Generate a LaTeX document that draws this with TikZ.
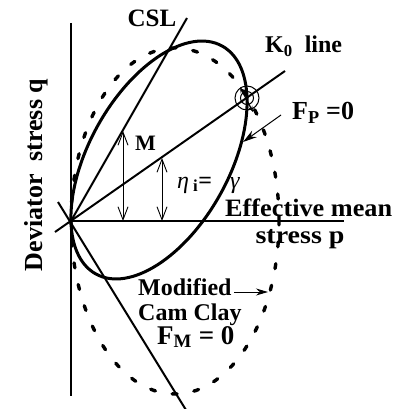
\documentclass[tikz,border=0pt]{standalone}
\usepackage{fontspec}
\setmainfont{Liberation Serif}
\usetikzlibrary{arrows.meta}
\begin{document}
\begin{tikzpicture}[x=1pt,y=-1pt,
  axis/.style={line width=1.3pt},
  ln/.style={line width=2pt},
  dblarrow/.style={line width=0.9pt,{Straight Barb[length=13pt,width=10pt]}-{Straight Barb[length=13pt,width=10pt]}},
  lbl/.style={inner sep=0pt},
  fs/.style={font=\fontsize{#1}{#1}\selectfont\bfseries}
]
\useasboundingbox (0,0) rectangle (401,409);
% coordinates
\coordinate (O) at (71,221);
\coordinate (ytop) at (71,23);
\coordinate (ybot) at (71,396);
\coordinate (xend) at (344,221);
\coordinate (csl) at (187,18);
\coordinate (k0a) at (55,232);
\coordinate (k0b) at (285,71);
\coordinate (la) at (58,202);
\coordinate (lb) at (186,410);
\coordinate (P) at (247,98);
\coordinate (m1) at (123,131);
\coordinate (m2) at (123,221);
\coordinate (e1) at (162,158);
\coordinate (e2) at (162,221);
\coordinate (fa) at (281,115);
\coordinate (fb) at (243,142);
\coordinate (ma) at (234,292);
\coordinate (mb) at (268,292);
\coordinate (sa) at (240,87);
\coordinate (sb) at (253,112);
% axes and lines
\draw[axis] (ytop) -- (ybot);
\draw[axis] (O) -- (xend);
\draw[ln] (O) -- (csl);
\draw[ln] (k0a) -- (k0b);
\draw[ln] (la) -- (lb);
% yield surfaces
\draw[line width=3pt, rotate around={61.0:(159,160)}] (159,160) ellipse [x radius=130.3pt, y radius=70.2pt];
\draw[line width=3.4pt, line cap=round, dash pattern=on 5pt off 17pt] (175,221) ellipse [x radius=104pt, y radius=173pt];
% circle marker
\draw[line width=1pt] (P) circle[radius=12pt];
\draw[line width=1pt] (P) circle[radius=6.5pt];
\draw[line width=1.2pt, {Stealth[length=6pt,width=4.5pt]}-{Stealth[length=6pt,width=4.5pt]}] (sa) -- (sb);
% arrows
\draw[dblarrow] (m1) -- (m2);
\draw[dblarrow] (e1) -- (e2);
\draw[line width=1pt, -{Stealth[length=14pt,width=8pt]}] (fa) -- (fb);
\draw[line width=1pt, -{Stealth[length=12pt,width=7pt]}] (ma) -- (mb);
% labels
\node[lbl, fs=25, anchor=base] (tcsl) at (152,27) {CSL};
\node[lbl, fs=24, anchor=base west] (tk0) at (265,53) {K\textsubscript{0}\ \ line};
\node[lbl, fs=26, anchor=base west] (tfp) at (292,120) {F\textsubscript{P} =0};
\node[lbl, fs=22, anchor=base west] (tm) at (135,150) {M};
\node[lbl, fs=24, anchor=base west] (teta) at (177,188) {{\mdseries\itshape η}\,\textsubscript{i}=};
\node[lbl, fs=24, anchor=base west] (tgam) at (230,188) {{\mdseries\itshape γ}};
\node[lbl, fs=25, anchor=base west, xscale=1.05] (teff) at (225,216) {Effective mean};
\node[lbl, fs=25, anchor=base, xscale=1.12] (tsp) at (300,243) {stress p};
\node[lbl, fs=24, anchor=base west] (tmod) at (138,295) {Modified};
\node[lbl, fs=24, anchor=base west] (tcam) at (138,320) {Cam Clay};
\node[lbl, fs=27, anchor=base west] (tfm) at (157,344) {F\textsubscript{M} = 0};
\node[lbl, fs=26, anchor=base, rotate=90] (tq) at (42,175) {Deviator\ \ stress q};
\end{tikzpicture}
\end{document}
